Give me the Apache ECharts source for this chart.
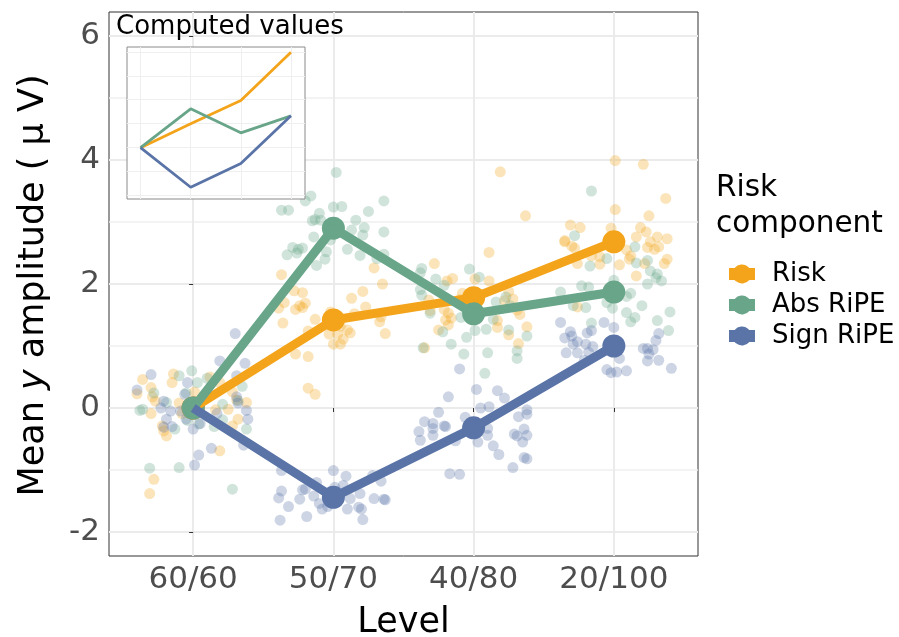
<!DOCTYPE html>
<html>
<head>
<meta charset="utf-8">
<script src="https://cdn.jsdelivr.net/npm/echarts@6/dist/echarts.min.js"></script>
<style>
  html, body { margin: 0; padding: 0; background: #fff; }
  #chart { width: 899px; height: 637px; }
</style>
</head>
<body>
<div id="chart"></div>
<script>
// Condition labels along the x axis
const levels = ['60/60', '50/70', '40/80', '20/100'];
const yTicks = [-2, 0, 2, 4, 6];
const yMinorTicks = [-1, 1, 3, 5];

// Condition means (µV)
const riskMean = [0, 1.42, 1.78, 2.68];
const absMean  = [0, 2.90, 1.52, 1.87];
const signMean = [0, -1.44, -0.32, 1.00];

// Participant values: [jittered level position, amplitude]
const riskPoints = [
  [-0.36,0.46],[-0.15,0.41],[-0.14,0.55],[-0.30,0.33],[-0.40,0.23],[-0.29,0.18],[-0.27,0.11],[-0.10,0.08],
  [-0.30,-0.09],[-0.22,-0.29],[-0.21,-0.37],[-0.19,-0.45],[0.01,0.26],[0.12,0.50],[0.19,0.41],[0.28,0.26],
  [0.31,0.13],[0.38,0.09],[0.25,-0.02],[0.16,-0.03],[0.32,-0.18],[0.28,-0.29],[0.19,-0.69],[-0.28,-1.15],
  [-0.31,-1.38],[-0.08,-0.09],
  [0.63,2.15],[1.29,2.26],[1.35,2.00],[0.72,1.89],[0.78,1.86],[0.65,1.70],[0.80,1.69],[0.76,1.65],
  [0.73,1.59],[0.61,1.61],[0.78,1.62],[1.21,1.88],[1.13,1.77],[1.23,1.63],[1.15,1.52],[0.87,1.43],
  [0.64,1.37],[1.34,1.47],[1.33,1.39],[1.37,1.20],[0.98,1.55],[1.05,1.32],[1.10,1.26],[1.12,1.21],
  [0.97,1.19],[1.03,1.19],[1.00,1.03],[1.05,1.03],[0.82,1.24],[0.73,0.87],[0.82,0.83],[0.82,0.32],
  [0.87,0.22],[1.07,1.11],
  [2.11,2.51],[1.72,2.33],[1.85,2.09],[1.81,2.05],[2.01,2.08],[2.11,2.05],[1.92,1.85],[1.68,1.74],
  [1.69,1.57],[1.79,1.59],[1.82,1.53],[1.84,1.45],[1.80,1.42],[1.82,1.34],[1.75,1.26],[2.25,1.88],
  [2.28,1.76],[2.22,1.73],[2.31,1.58],[2.33,1.51],[2.17,1.30],[2.25,1.18],[2.38,1.31],[2.32,1.04],
  [1.65,0.97],[2.17,1.41],[1.90,1.75],[2.19,3.81],[2.37,3.10],
  [3.01,3.99],[3.21,3.93],[3.37,3.38],[3.01,3.20],[3.25,3.10],[2.69,2.95],[2.76,2.91],[2.98,2.90],
  [3.19,2.91],[3.23,2.84],[3.16,2.76],[2.65,2.70],[2.70,2.61],[2.72,2.58],[3.31,2.76],[3.38,2.73],
  [3.26,2.68],[3.24,2.59],[3.32,2.60],[3.29,2.56],[3.09,2.55],[3.12,2.45],[3.11,2.40],[2.84,2.45],
  [2.90,2.44],[2.74,2.33],[2.90,2.32],[3.04,2.31],[3.22,2.33],[3.38,2.40],[3.36,2.33],[3.16,2.13],
  [2.74,1.63],[2.65,2.68]
];
const absPoints = [
  [-0.10,0.52],[-0.01,0.60],[0.03,0.41],[-0.28,0.24],[-0.38,-0.04],[-0.36,-0.02],[-0.19,0.09],[-0.13,-0.34],
  [-0.04,-0.20],[0.04,-0.26],[0.15,-0.30],[0.21,0.06],[0.21,-0.19],[0.35,0.35],[0.38,-0.34],[0.32,0.12],
  [-0.10,-0.96],[0.28,-1.31],[0.10,0.48],[-0.05,0.24],[-0.31,-0.97],
  [1.02,3.80],[0.84,3.42],[0.80,3.34],[0.63,3.19],[0.68,3.19],[1.00,3.24],[1.06,3.25],[1.25,3.17],
  [1.36,3.34],[0.90,3.14],[0.87,3.04],[0.85,3.02],[0.91,3.03],[1.16,3.03],[1.22,2.91],[1.13,2.87],
  [1.21,2.79],[1.36,2.84],[0.86,2.76],[0.98,2.71],[0.71,2.59],[0.75,2.56],[0.78,2.58],[0.67,2.47],
  [0.74,2.50],[0.95,2.52],[0.94,2.40],[1.10,2.56],[1.19,2.46],[1.36,2.48],[1.31,2.41],[0.88,2.30],
  [1.63,2.25],[1.62,2.18],[1.73,2.08],[1.97,2.24],[2.04,2.11],[1.79,1.98],[1.62,1.91],[1.63,1.82],
  [1.69,1.53],[1.91,1.46],[2.16,1.71],[2.23,1.79],[2.26,1.65],[2.14,1.43],[2.09,1.27],[2.01,1.25],
  [1.95,1.14],[1.78,1.23],[1.84,1.03],[1.64,0.97],[1.93,0.87],[2.10,0.89],[2.25,1.26],[2.38,1.16],
  [2.31,0.92],[2.31,0.80],[2.08,0.56],
  [2.84,3.50],[2.72,2.78],[3.15,2.60],[2.95,2.41],[2.83,2.29],[3.16,2.34],[3.24,2.38],[3.26,2.21],
  [3.31,2.16],[3.30,2.10],[3.34,2.05],[3.24,2.00],[2.77,1.97],[2.82,1.95],[2.62,1.87],[3.00,2.06],
  [2.99,1.93],[3.12,1.85],[3.09,1.80],[2.95,1.70],[2.99,1.61],[2.71,1.65],[2.80,1.62],[3.20,1.65],
  [3.40,1.55],[3.09,1.54],[3.15,1.46],[3.12,1.39],[3.31,1.41],[3.39,1.25],[2.84,1.37]
];
const signPoints = [
  [0.30,1.20],[-0.30,0.54],[-0.40,0.29],[-0.04,0.41],[0.19,0.76],[0.37,0.72],[0.31,0.52],[-0.21,0.11],
  [-0.23,0.00],[-0.16,-0.05],[-0.09,-0.05],[-0.05,-0.18],[-0.19,-0.18],[-0.21,-0.31],[-0.15,-0.30],[0.00,-0.34],
  [0.05,-0.25],[0.38,-0.04],[0.39,-0.18],[0.31,0.18],[0.32,0.08],[0.17,-0.09],[0.36,-0.60],[0.13,-0.65],
  [0.04,-0.76],[0.01,-0.92],[-0.06,0.22],
  [0.63,-1.01],[1.00,-1.01],[1.09,-1.10],[1.28,-1.09],[1.34,-1.18],[0.88,-1.20],[1.07,-1.25],[1.01,-1.28],
  [0.63,-1.34],[0.78,-1.32],[0.80,-1.31],[0.86,-1.42],[1.19,-1.38],[0.61,-1.45],[0.76,-1.47],[1.12,-1.46],
  [1.29,-1.46],[1.36,-1.47],[1.37,-1.48],[0.90,-1.54],[0.68,-1.59],[0.92,-1.63],[1.10,-1.63],[1.18,-1.60],
  [1.20,-1.63],[0.96,-1.59],[0.81,-1.75],[0.62,-1.81],[1.21,-1.80],
  [1.82,0.18],[2.02,0.30],[2.17,0.28],[2.22,0.16],[2.05,0.00],[2.11,0.02],[1.75,-0.07],[1.94,-0.15],
  [1.65,-0.22],[1.71,-0.25],[1.79,-0.29],[1.80,-0.30],[1.71,-0.33],[1.61,-0.38],[1.71,-0.44],[1.62,-0.52],
  [1.87,-0.53],[2.10,-0.33],[2.10,-0.44],[2.03,-0.55],[2.32,-0.14],[2.38,-0.03],[2.38,-0.10],[2.36,-0.34],
  [2.29,-0.42],[2.31,-0.45],[2.38,-0.44],[2.35,-0.55],[2.14,-0.61],[2.18,-0.75],[2.36,-0.80],[2.38,-0.82],
  [2.28,-0.96],[1.83,-1.06],[1.90,-1.07],[1.90,0.63],
  [2.62,1.38],[2.93,1.38],[3.00,1.30],[2.84,1.25],[2.81,1.21],[2.69,1.23],[2.70,1.16],[2.65,1.13],
  [3.32,1.20],[3.30,1.09],[2.74,1.07],[2.80,1.03],[2.85,0.99],[2.71,1.03],[3.21,0.96],[3.24,0.96],
  [3.28,0.94],[2.74,0.89],[2.66,0.89],[2.82,0.90],[3.25,0.87],[3.32,0.77],[2.79,0.77],[3.24,0.76],
  [3.04,0.80],[2.95,0.62],[2.98,0.57],[3.02,0.58],[3.09,0.60],[3.41,0.64]
];

// Model-computed values for the inset
const insetRisk = [0, 1.00, 1.97, 3.98];
const insetAbs  = [0, 1.62, 0.62, 1.33];
const insetSign = [0, -1.65, -0.66, 1.33];
const insetSteps = [0, 1, 2, 3];
const insetGridValues = [-2, -1, 0, 1, 2, 3, 4];

const seriesNames = ['Risk', 'Abs RiPE', 'Sign RiPE'];
const colors = ['#F3A41B', '#68A589', '#5A74A8'];
const FONT = '"DejaVu Sans", Verdana, sans-serif';

const pairs = (xs, ys) => xs.map((x, i) => [x, ys[i]]);
const levelPos = levels.map((_, i) => i);

// Legend key: a short thick line segment behind a filled circle
const legendIcon = 'path://M0,3.5L5.63,3.5A9.5,9.5,0,0,1,20.37,3.5L26,3.5L26,15.5L20.37,15.5A9.5,9.5,0,0,1,5.63,15.5L0,15.5Z';

const chart = echarts.init(document.getElementById('chart'), null, { renderer: 'canvas' });

const gridLine = { show: true, lineStyle: { color: '#EBEBEB', width: 2 } };

function jitterSeries(data, color) {
  return {
    type: 'scatter', xAxisIndex: 0, yAxisIndex: 0, data: data,
    symbol: 'circle', symbolSize: 11, silent: true, z: 2,
    itemStyle: { color: color, opacity: 0.3 }
  };
}
// Mean markers (drawn beneath the connecting lines)
function meanDots(means, color) {
  return {
    type: 'scatter', xAxisIndex: 0, yAxisIndex: 0, data: pairs(levelPos, means),
    symbol: 'circle', symbolSize: 23, silent: true, z: 3,
    itemStyle: { color: color, opacity: 1 }
  };
}
function meanLine(name, means, color) {
  return {
    name: name, type: 'line', xAxisIndex: 0, yAxisIndex: 0,
    data: pairs(levelPos, means), symbol: 'none',
    lineStyle: { color: color, width: 9 }, itemStyle: { color: color },
    z: 4, silent: true
  };
}
function insetSeries(vals, color) {
  return {
    type: 'line', xAxisIndex: 1, yAxisIndex: 2, data: pairs(insetSteps, vals),
    symbol: 'none', lineStyle: { color: color, width: 2.8 }, z: 12, silent: true
  };
}

chart.setOption({
  animation: false,
  backgroundColor: '#fff',
  grid: [
    { left: 109, top: 12, right: 201, bottom: 81, outerBoundsMode: 'none', containLabel: false,
      show: true, borderColor: '#333', borderWidth: 1, backgroundColor: 'transparent' },
    { left: 127, top: 47, width: 178, height: 152, outerBoundsMode: 'none', containLabel: false,
      show: true, borderColor: '#8a8a8a', borderWidth: 1, backgroundColor: '#fff', z: 10 }
  ],
  xAxis: [
    {
      type: 'value', gridIndex: 0, min: -0.6, max: 3.6,
      axisLine: { show: false },
      axisTick: { show: true, customValues: levelPos, length: 4, lineStyle: { color: '#333', width: 1 } },
      axisLabel: { show: true, customValues: levelPos, margin: 8, fontSize: 31, color: '#4D4D4D', fontFamily: FONT,
                   formatter: v => levels[Math.round(v)] },
      splitLine: gridLine,
      name: 'Level', nameLocation: 'middle', nameGap: 49,
      nameTextStyle: { fontSize: 35, color: '#000', fontFamily: FONT }
    },
    {
      type: 'value', gridIndex: 1, min: -0.27, max: 3.28, z: 11,
      axisLine: { show: false }, axisLabel: { show: false },
      axisTick: { show: false, customValues: insetSteps },
      splitLine: { show: true, lineStyle: { color: '#EFEFEF', width: 1 } }
    }
  ],
  yAxis: [
    {
      type: 'value', gridIndex: 0, min: -2.387, max: 6.387,
      axisLine: { show: false },
      axisTick: { show: true, customValues: yTicks, length: 4, lineStyle: { color: '#333', width: 1 } },
      axisLabel: { show: true, customValues: yTicks, margin: 9, fontSize: 31, color: '#4D4D4D', fontFamily: FONT },
      splitLine: gridLine
    },
    {
      type: 'value', gridIndex: 0, min: -2.387, max: 6.387, position: 'right',
      axisLine: { show: false }, axisLabel: { show: false, customValues: yMinorTicks },
      axisTick: { show: false, customValues: yMinorTicks },
      splitLine: { show: true, lineStyle: { color: '#EFEFEF', width: 1.5 } }
    },
    {
      type: 'value', gridIndex: 1, min: -2.14, max: 4.2, z: 11,
      axisLine: { show: false }, axisLabel: { show: false },
      axisTick: { show: false, customValues: insetGridValues },
      splitLine: { show: true, lineStyle: { color: '#EFEFEF', width: 1 } }
    }
  ],
  legend: {
    data: seriesNames, orient: 'vertical', left: 724, top: 256,
    itemWidth: 50, itemHeight: 19, itemGap: 5, icon: legendIcon, selectedMode: false,
    textStyle: { fontSize: 26, color: '#000', fontFamily: FONT, lineHeight: 25 }
  },
  graphic: [
    { type: 'text', x: 34, y: 285.5, rotation: Math.PI / 2, z: 20,
      style: {
        text: '{a|Mean }{b|y}{a| amplitude ( μ V)}', align: 'center', verticalAlign: 'middle',
        rich: {
          a: { fontSize: 35, fontFamily: FONT, fill: '#000' },
          b: { fontSize: 35, fontFamily: FONT, fill: '#000', fontStyle: 'italic' }
        }
      } },
    { type: 'text', left: 116, top: 14, z: 20,
      style: { text: 'Computed values', font: '26px ' + FONT, fill: '#000' } },
    { type: 'text', left: 716, top: 170, z: 20,
      style: { text: 'Risk\ncomponent', font: '29.5px ' + FONT, fill: '#000', lineHeight: 36 } }
  ],
  series: [
    jitterSeries(riskPoints, colors[0]),
    jitterSeries(absPoints, colors[1]),
    jitterSeries(signPoints, colors[2]),
    meanDots(signMean, colors[2]),
    meanDots(riskMean, colors[0]),
    meanDots(absMean, colors[1]),
    meanLine(seriesNames[0], riskMean, colors[0]),
    meanLine(seriesNames[1], absMean, colors[1]),
    meanLine(seriesNames[2], signMean, colors[2]),
    insetSeries(insetRisk, colors[0]),
    insetSeries(insetAbs, colors[1]),
    insetSeries(insetSign, colors[2])
  ]
});
</script>
</body>
</html>
